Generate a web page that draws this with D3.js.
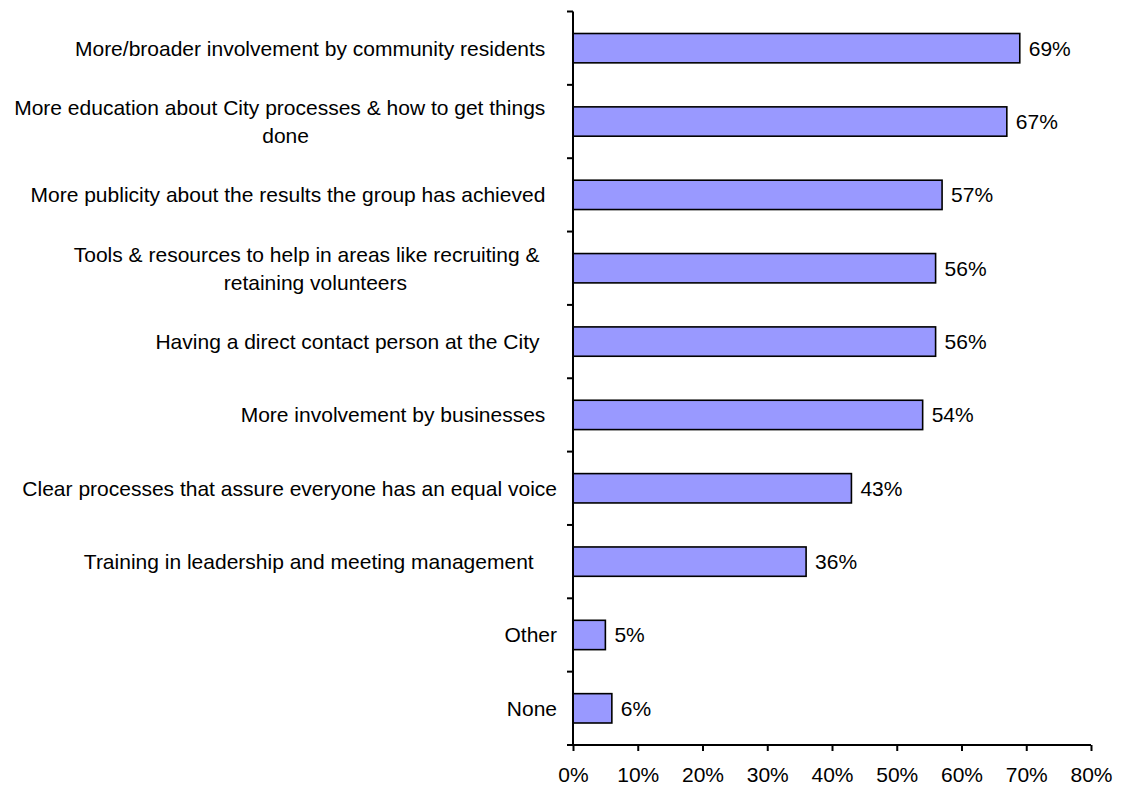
<!DOCTYPE html>
<html><head><meta charset="utf-8">
<script src="https://cdn.jsdelivr.net/npm/d3@7"></script>
<style>
body{margin:0;background:#fff;}
svg text{font-family:"Liberation Sans",Arial,sans-serif;fill:#000;white-space:pre;}
</style></head>
<body><svg id="c" width="1121" height="791"></svg>
<script>
// Category labels (lines of wrapped text; trailing spaces as in the source)
const categories = [
  ["More/broader involvement by community residents  "],
  ["More education about City processes & how to get things  ", "done"],
  ["More publicity about the results the group has achieved  "],
  ["Tools & resources to help in areas like recruiting &   ", "retaining volunteers"],
  ["Having a direct contact person at the City   "],
  ["More involvement by businesses  "],
  ["Clear processes that assure everyone has an equal voice"],
  ["Training in leadership and meeting management    "],
  ["Other"],
  ["None"]
];
const values = [69, 67, 57, 56, 56, 54, 43, 36, 5, 6];
const xTicks = [0, 10, 20, 30, 40, 50, 60, 70, 80];

(function(){
const svg = d3.select("#c");
const FS = 21;
const L = 573, R = 1091, T = 11.5, B = 745;
const x = d3.scaleLinear().domain([0, 80]).range([L, R]);
const y = d3.scaleBand().domain(d3.range(categories.length)).range([T, B]).paddingInner(0.6).paddingOuter(0.3);
const band = (B - T) / categories.length;

// bars
svg.selectAll("rect.bar").data(values).join("rect")
  .attr("x", x(0)).attr("y", (d,i)=>y(i))
  .attr("width", d=>x(d)-x(0)).attr("height", y.bandwidth())
  .attr("fill", "#9999FF").attr("stroke", "#000").attr("stroke-width", 1.6);

// value labels
svg.selectAll("text.val").data(values).join("text")
  .attr("x", d=>x(d)+9).attr("y", (d,i)=>y(i)+y.bandwidth()/2)
  .attr("dy", "0.35em").attr("font-size", FS).text(d=>d+"%");

// y axis line and ticks
svg.append("line").attr("x1", L).attr("x2", L).attr("y1", T).attr("y2", B)
  .attr("stroke", "#000").attr("stroke-width", 2);
svg.selectAll("line.yt").data(d3.range(categories.length+1)).join("line")
  .attr("x1", L-6).attr("x2", L).attr("y1", i=>T+i*band).attr("y2", i=>T+i*band)
  .attr("stroke", "#000").attr("stroke-width", 2);

// x axis
const xAxis = d3.axisBottom(x).tickValues(xTicks).tickFormat(d=>d+"%").tickSize(6).tickPadding(16);
const gx = svg.append("g").attr("transform", `translate(0,${B})`).call(xAxis);
gx.select(".domain").attr("stroke-width", 2).attr("d", `M${L},0H${R}`);
gx.selectAll(".tick line").attr("stroke-width", 2);
gx.selectAll(".tick text").attr("font-size", FS).attr("font-family", "Liberation Sans, Arial, sans-serif");

// category labels
const labelRight = 557, lineH = 28;
categories.forEach((lines, i) => {
  const cy = T + band*(i+0.5);
  const g = svg.append("g");
  const ts = lines.map((l, k) => g.append("text").attr("font-size", FS)
      .attr("y", cy + (k - (lines.length-1)/2)*lineH).attr("dy", "0.35em").text(l));
  const maxW = d3.max(ts, t => t.node().getComputedTextLength());
  const cx = labelRight - maxW/2;
  ts.forEach(t => t.attr("x", cx).attr("text-anchor", "middle"));
});
})();
</script></body></html>
